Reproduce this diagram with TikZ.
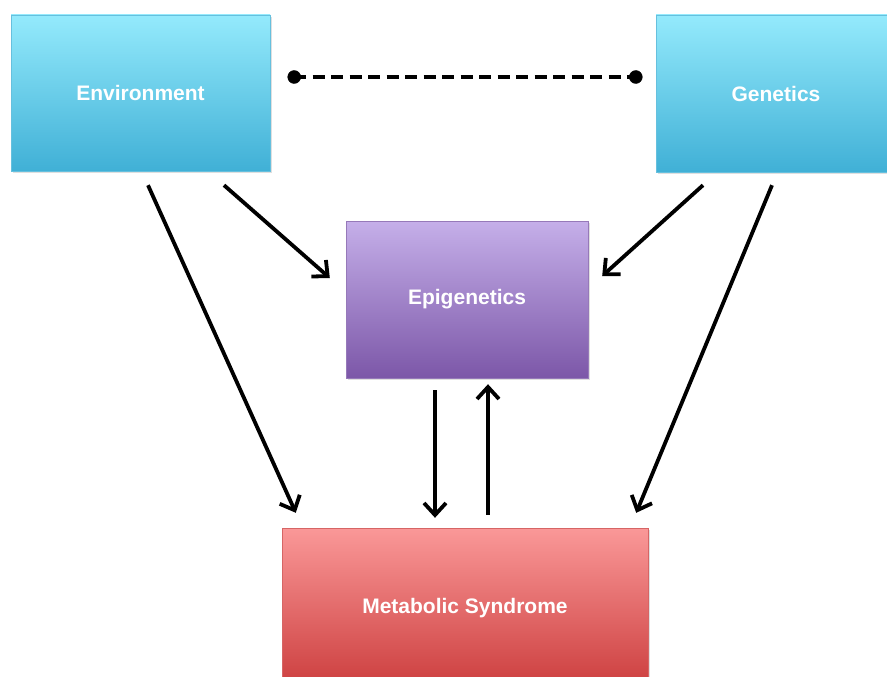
\documentclass[tikz,border=0pt]{standalone}
\usepackage{fontspec}
\setmainfont{Liberation Sans}
\usetikzlibrary{arrows.meta,shadows}

\definecolor{envtop}{HTML}{94EAFC}
\definecolor{envbot}{HTML}{40B0D6}
\definecolor{epitop}{HTML}{C5AFE9}
\definecolor{epibot}{HTML}{7C57A8}
\definecolor{mstop}{HTML}{FA9898}
\definecolor{msbot}{HTML}{CC3E3E}

\begin{document}
\begin{tikzpicture}[x=1pt, y=-1pt,
    box/.style={rectangle, inner sep=0pt, text=white,
        font=\fontsize{21}{25}\selectfont\bfseries,
        drop shadow={opacity=0.25, shadow xshift=1.5pt, shadow yshift=-2pt}},
    envbox/.style={box, top color=envtop, bottom color=envbot, draw=envbot!80!white,
        minimum width=259pt, minimum height=156pt},
    epibox/.style={box, top color=epitop, bottom color=epibot, draw=epibot!80!white,
        minimum width=242pt, minimum height=157pt},
    msbox/.style={box, top color=mstop, bottom color=msbot, draw=msbot!80!white,
        minimum width=366pt, minimum height=160pt},
    arr/.style={line width=3.8pt, -{Straight Barb[length=12pt, width=22pt]}},
    link/.style={line width=3.8pt, dash pattern=on 12pt off 6.5pt}]
        % Frame of the picture
        \clip (0,0) rectangle (887,677);
        \fill[white] (0,0) rectangle (887,677);

        % Boxes
        \node[envbox] (env) at (140.5, 93) {Environment};
        \node[envbox, minimum width=240pt, minimum height=157pt] (gen) at (776, 93.5) {Genetics};
        \node[epibox] (epi) at (467, 299.5) {Epigenetics};
        \node[msbox] (ms) at (465, 608) {Metabolic Syndrome};

        % Dashed link between environment and genetics
        \coordinate (envdot) at ([xshift=24pt, yshift=16pt]env.east);
        \coordinate (gendot) at ([xshift=-20pt, yshift=16.5pt]gen.west);
        \draw[link] (envdot) -- (gendot);
        \filldraw[black] (envdot) circle (6.5pt);
        \filldraw[black] (gendot) circle (6.5pt);

        % Arrows
        \draw[arr] ([xshift=7.5pt, yshift=-14pt]env.south) -- ([xshift=14pt, yshift=15pt]ms.north west);
        \draw[arr] ([xshift=83.5pt, yshift=-14pt]env.south) -- ([xshift=-16pt, yshift=21.5pt]epi.west);
        \draw[arr] ([xshift=-73pt, yshift=-13pt]gen.south) -- ([xshift=14pt, yshift=23.5pt]epi.east);
        \draw[arr] ([xshift=-4pt, yshift=-13pt]gen.south) -- ([xshift=-12pt, yshift=15pt]ms.north east);
        \draw[arr] ([xshift=-32pt, yshift=-12pt]epi.south) -- ([xshift=-30pt, yshift=10pt]ms.north);
        \draw[arr] ([xshift=23pt, yshift=13pt]ms.north) -- ([xshift=21pt, yshift=-6pt]epi.south);
    \end{tikzpicture}
\end{document}
